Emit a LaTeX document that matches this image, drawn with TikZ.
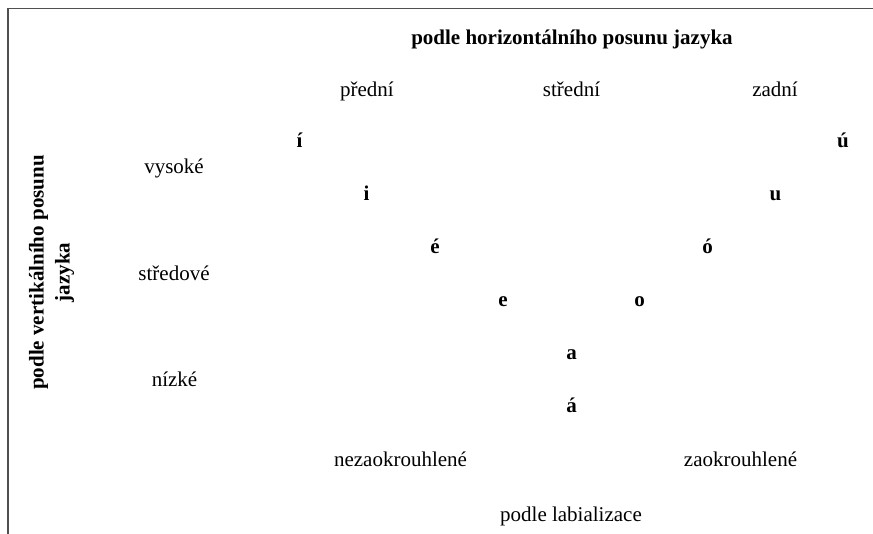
\documentclass[tikz,border=0pt]{standalone}
\usepackage{fontspec}
\setmainfont{Liberation Serif}
\begin{document}
\begin{tikzpicture}[x=1pt,y=-1pt,
  txt/.style={inner sep=0pt,anchor=base,font=\fontsize{21}{25}\selectfont},
  vowel/.style={txt,font=\fontsize{21}{25}\selectfont\bfseries},
  frameline/.style={draw={rgb,255:red,80;green,80;blue,80},line width=1.5pt}]
\useasboundingbox (0,0) rectangle (873,534);
% frame edges
\coordinate (ftop) at (873,8.7);
\coordinate (fcorner) at (7.8,8.7);
\coordinate (fbottom) at (7.8,534);
\draw[frameline] (ftop) -- (fcorner) -- (fbottom);
% axis titles
\node[vowel] (htitle) at (572,45) {podle horizontálního posunu jazyka};
\node[txt] (labtitle) at (571,521) {podle labializace};
\node[inner sep=0pt,rotate=90,align=center,font=\fontsize{21}{23}\selectfont\bfseries] (vtitle) at (51.5,272.5) {podle vertikálního posunu\\[3pt]jazyka};
% column headings
\node[txt] (front) at (367,97) {přední};
\node[txt] (central) at (571.5,97) {střední};
\node[txt] (back) at (775,97) {zadní};
% row headings
\node[txt] (high) at (174,174) {vysoké};
\node[txt] (mid) at (174,281) {středové};
\node[txt] (low) at (174.5,387) {nízké};
% rounding headings
\node[txt] (unrounded) at (400.5,466) {nezaokrouhlené};
\node[txt] (rounded) at (740.5,466) {zaokrouhlené};
% vowels
\node[vowel] (ilong) at (299.5,148) {í};
\node[vowel] (ulong) at (843,148) {ú};
\node[vowel] (ishort) at (366.5,201) {i};
\node[vowel] (ushort) at (775.5,201) {u};
\node[vowel] (elong) at (435,254) {é};
\node[vowel] (olong) at (707.5,254) {ó};
\node[vowel] (eshort) at (503,307) {e};
\node[vowel] (oshort) at (639.5,307) {o};
\node[vowel] (ashort) at (571.5,360) {a};
\node[vowel] (along) at (571.5,413) {á};
\end{tikzpicture}
\end{document}
